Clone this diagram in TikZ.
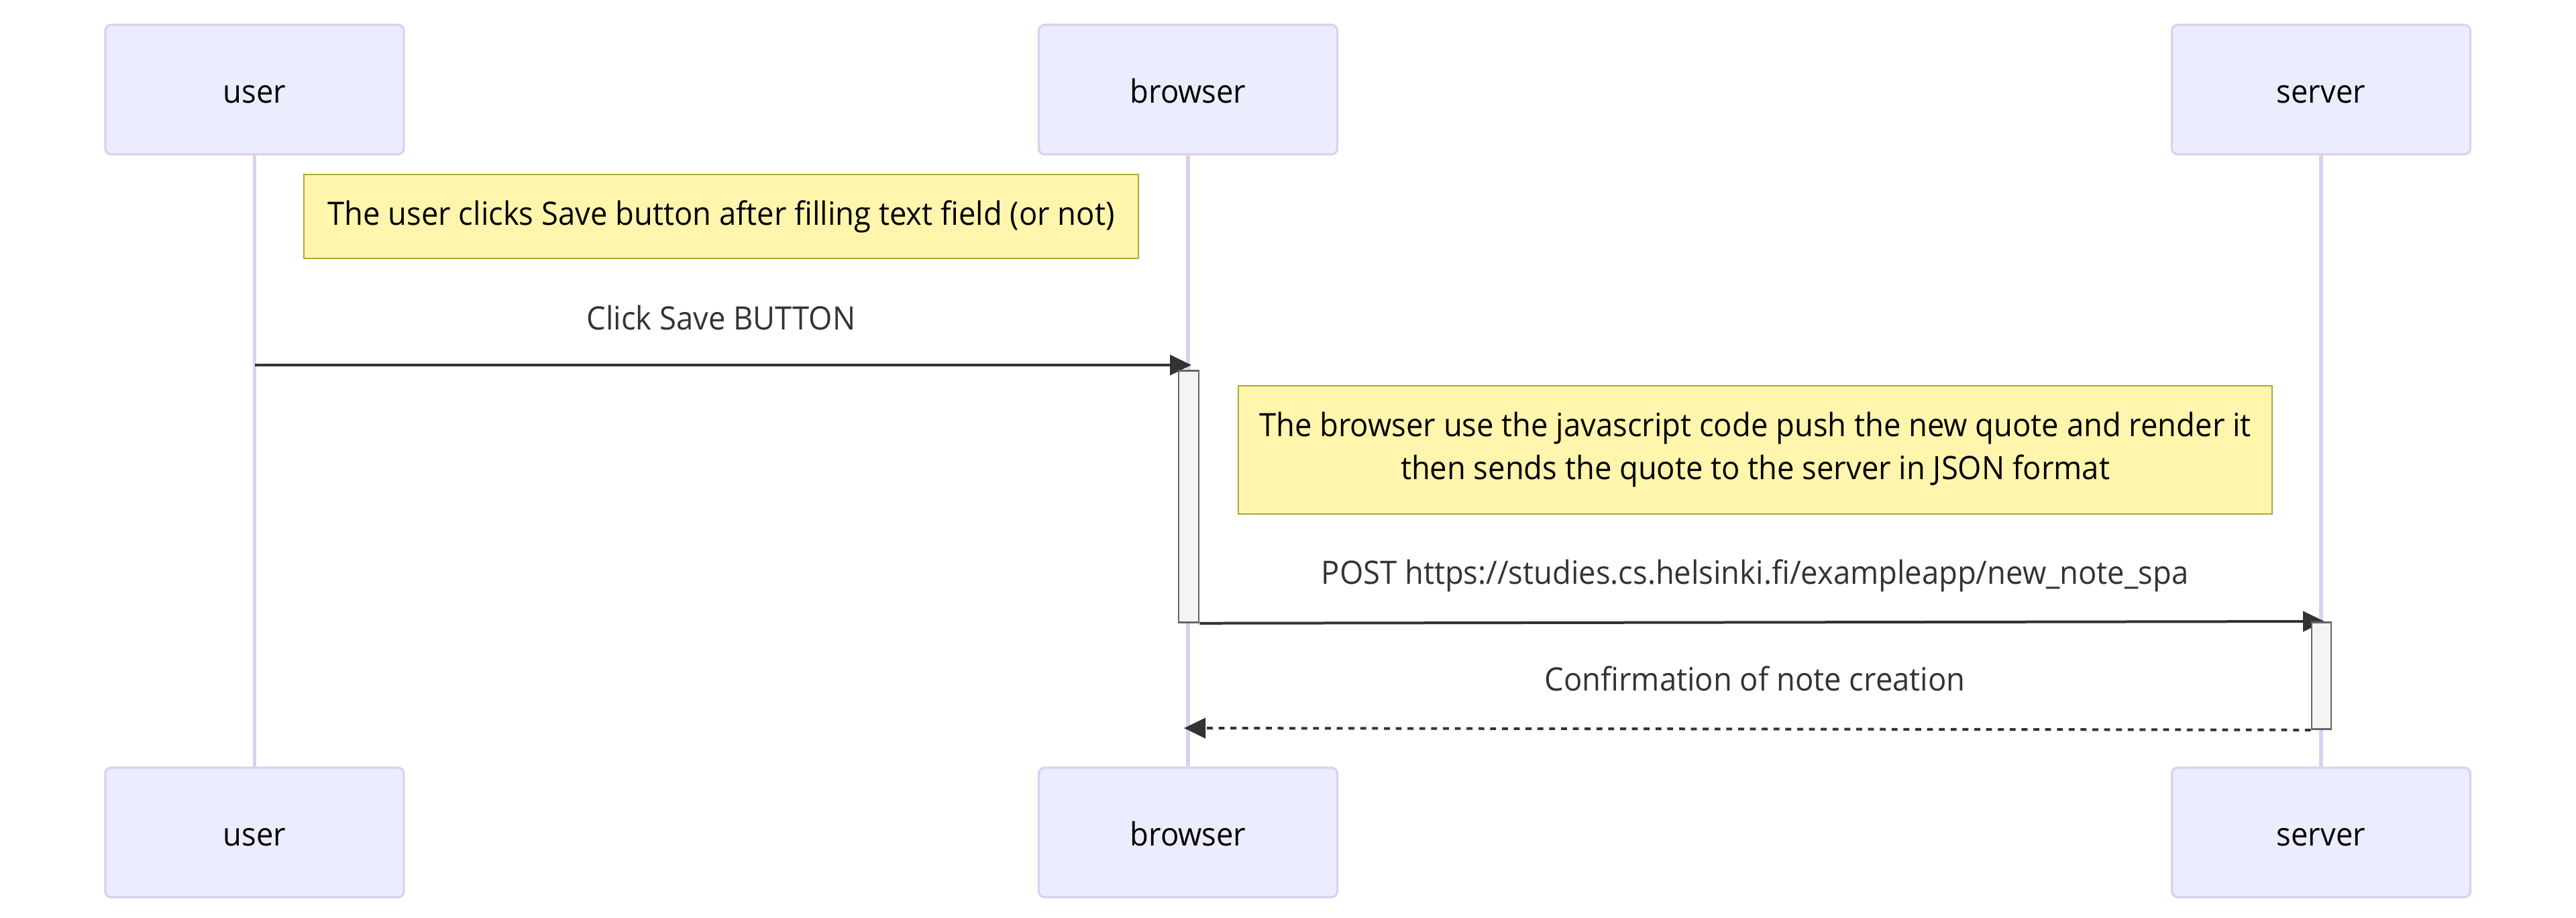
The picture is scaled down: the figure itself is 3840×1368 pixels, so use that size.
\documentclass[tikz,border=0pt]{standalone}
\usepackage{fontspec}
\setmainfont[FakeStretch=0.945]{Open Sans}
\usetikzlibrary{arrows.meta}
\definecolor{actfill}{HTML}{ECECFF}
\definecolor{actdraw}{HTML}{D9D0F2}
\definecolor{notefill}{HTML}{FFF5AD}
\definecolor{notedraw}{HTML}{AAAA33}
\definecolor{msgcol}{HTML}{333333}
\definecolor{actvfill}{HTML}{F4F4F4}
\definecolor{actvdraw}{HTML}{666666}
\tikzset{
  actor/.style={draw=actdraw, fill=actfill, line width=0.8pt, rounded corners=2.2pt,
    minimum width=111.25pt, minimum height=48.25pt, inner sep=0pt, font=\fontsize{12}{14}\selectfont, text=black,
    text height=12pt, text depth=2.2pt},
  lifeline/.style={draw=actdraw, line width=1.4pt},
  notebox/.style={draw=notedraw, fill=notefill, line width=0.7pt, inner sep=0pt,
    font=\fontsize{12}{16}\selectfont, text=black, align=center},
  actv/.style={draw=actvdraw, fill=actvfill, line width=0.7pt},
  msg/.style={draw=msgcol, line width=1pt, -{Triangle[length=8pt,width=7.5pt]}},
  reply/.style={msg, dash pattern=on 2.2pt off 2.2pt},
  msglabel/.style={font=\fontsize{12}{14}\selectfont, text=msgcol, inner sep=0pt,
    text height=12pt, text depth=3pt}
}
\begin{document}
\begin{tikzpicture}[x=0.25pt, y=-0.25pt]
\useasboundingbox (0,0) rectangle (3840,1368);
% actors
\node[actor] (userT) at (379.5,133.5) {user};
\node[actor] (browserT) at (1771,133.5) {browser};
\node[actor] (serverT) at (3460,133.5) {server};
\node[actor] (userB) at (379.5,1240.5) {user};
\node[actor] (browserB) at (1771,1240.5) {browser};
\node[actor] (serverB) at (3460,1240.5) {server};
% lifelines
\draw[lifeline] (userT) -- (userB);
\draw[lifeline] (browserT) -- (browserB);
\draw[lifeline] (serverT) -- (serverB);
% note 1
\node[notebox, minimum width=311pt, minimum height=31.25pt] (note1) at (1075,322.5)
  {The user clicks Save button after filling text field (or not)};
% message 1
\coordinate (m1s) at (379.5,544);
\coordinate (m1e) at (1776,544);
\node[msglabel] (l1) at (1075,473) {Click Save BUTTON};
\draw[msg] (m1s) -- (m1e);
% browser activation
\node[actv, minimum width=7.5pt, minimum height=93.75pt, inner sep=0pt, anchor=north] (actB) at (1772,551) {};
% note 2
\node[notebox, minimum width=385.25pt, minimum height=47.75pt] (note2) at (2616.5,670.5)
  {The browser use the javascript code push the new quote and render it\\[0pt]then sends the quote to the server in JSON format};
% message 2
\node[msglabel] (l2) at (2616,852) {POST https://studies.cs.helsinki.fi/exampleapp/new\_note\_spa};
\coordinate (m2e) at (3465,926);
\draw[msg] (actB.south east) -- (m2e);
% server activation
\node[actv, minimum width=7.25pt, minimum height=39.75pt, inner sep=0pt, anchor=north] (actS) at (3460.5,926) {};
% message 3
\node[msglabel] (l3) at (2616,1011) {Confirmation of note creation};
\coordinate (m3e) at (1765,1085);
\draw[reply] (actS.south west) -- (m3e);
\end{tikzpicture}
\end{document}
